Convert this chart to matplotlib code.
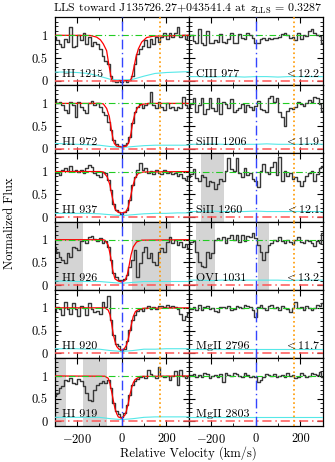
import numpy as np
import matplotlib
matplotlib.use('Agg')
import matplotlib.pyplot as plt
from matplotlib.ticker import MultipleLocator

plt.rcParams['font.family'] = 'serif'
plt.rcParams['font.serif'] = ['cmr10']
plt.rcParams['mathtext.fontset'] = 'cm'
plt.rcParams['axes.formatter.use_mathtext'] = True

##### Data #####
# Spectra are sampled on a 12 km/s grid, errors on a coarser 50 km/s grid
vel = np.arange(-300, 301, 12)
err_vel = np.arange(-300, 301, 50)

left_ions = ['HI 1215', 'HI 972', 'HI 937', 'HI 926', 'HI 920', 'HI 919']
right_ions = ['CIII 977', 'SiIII 1206', 'SiII 1260', 'OVI 1031', 'MgII 2796', 'MgII 2803']
right_limits = ['12.2', '11.9', '12.1', '13.2', '11.7', None]

flux_hi1215 = [0.96, 0.89, 0.81, 0.74, 0.92, 0.85, 1.19, 0.74, 0.77, 1.0, 0.89, 1.04, 0.81,
               0.96, 0.77, 0.85, 0.81, 0.70, 0.55, 0.44, 0.36, 0.10, 0.0, -0.02, 0.02, -0.03,
               0.01, -0.02, 0.02, 0.10, 0.36, 0.59, 0.70, 0.77, 0.89, 0.74, 0.92, 0.81, 0.96,
               0.85, 0.96, 1.04, 0.92, 1.04, 0.96, 1.04, 1.19, 0.96, 1.0, 0.92, 1.0]
flux_hi972 = [1.07, 1.0, 1.04, 0.96, 0.85, 0.78, 1.04, 0.96, 0.71, 1.04, 0.93, 0.85, 0.78,
              1.0, 1.06, 0.96, 1.01, 0.93, 0.82, 0.74, 0.60, 0.41, 0.19, 0.10, 0.06, 0.04,
              0.08, 0.12, 0.26, 0.56, 0.82, 0.93, 0.99, 0.89, 0.96, 1.01, 1.26, 0.96, 0.89,
              1.04, 0.93, 0.85, 1.0, 0.89, 0.91, 0.85, 0.93, 0.89, 1.15, 0.96, 0.89]
flux_hi937 = [0.96, 0.97, 0.92, 1.04, 1.07, 1.01, 1.12, 1.01, 1.04, 0.99, 1.03, 0.96, 1.07,
              1.14, 1.09, 0.97, 0.92, 0.87, 0.99, 0.96, 0.81, 0.59, 0.29, 0.15, 0.10, 0.07,
              0.11, 0.16, 0.37, 0.70, 0.88, 1.03, 1.18, 1.03, 1.07, 0.97, 1.01, 0.94, 1.03,
              0.97, 0.94, 1.03, 0.96, 0.99, 0.94, 0.97, 0.90, 0.94, 0.85, 0.81, 0.90]
flux_hi926 = [0.84, 0.73, 0.62, 0.55, 0.48, 0.70, 0.62, 0.84, 0.81, 0.77, 0.98, 0.99, 0.92,
              1.05, 1.08, 1.01, 0.98, 1.03, 0.92, 0.98, 0.84, 0.55, 0.27, 0.17, 0.12, 0.11,
              0.14, 0.22, 0.40, 0.55, 0.77, 0.18, 0.48, 0.73, 0.83, 0.59, 0.70, 0.51, 0.44,
              0.73, 0.81, 0.73, 0.95, 1.05, 0.92, 0.99, 0.88, 0.95, 0.84, 0.90, 0.81]
flux_hi920 = [0.94, 1.01, 0.98, 0.85, 1.13, 0.98, 0.86, 1.10, 0.98, 0.83, 1.03, 0.99, 0.85,
              1.10, 0.98, 0.91, 0.92, 0.86, 1.13, 1.01, 1.25, 0.74, 0.41, 0.20, 0.15, 0.05,
              0.10, 0.28, 0.52, 0.74, 0.85, 0.92, 0.98, 0.94, 0.99, 1.05, 0.98, 1.01, 0.98,
              1.03, 1.05, 1.01, 1.07, 1.02, 1.05, 1.01, 0.98, 0.86, 0.74, 0.81, 0.88]
flux_hi919 = [0.55, 0.62, 0.73, 0.79, 0.92, 0.89, 0.95, 0.84, 0.82, 0.94, 0.89, 0.77, 0.62,
              0.47, 0.44, 0.70, 0.81, 0.84, 0.88, 0.84, 0.92, 0.73, 0.40, 0.22, 0.16, 0.09,
              0.18, 0.36, 0.59, 0.81, 0.89, 0.94, 0.97, 1.01, 0.95, 1.14, 1.04, 0.99, 0.95,
              1.19, 1.01, 0.97, 1.01, 0.92, 1.01, 1.10, 0.81, 1.14, 0.99, 0.95, 1.01]
flux_ciii977 = [0.99, 1.01, 0.88, 0.82, 1.13, 0.84, 0.79, 1.10, 0.82, 0.84, 0.89, 0.86, 1.02,
                0.86, 0.84, 0.91, 1.04, 0.84, 0.82, 1.02, 0.95, 0.91, 1.04, 1.01, 0.94, 0.84,
                0.82, 0.91, 0.94, 0.89, 0.95, 0.91, 0.94, 0.95, 0.97, 1.02, 1.06, 1.01, 0.94,
                0.97, 0.89, 1.06, 0.91, 1.01, 0.99, 1.10, 1.13, 1.04, 1.01, 0.99, 0.84]
flux_siiii1206 = [0.93, 0.98, 1.13, 0.80, 0.97, 1.13, 0.76, 0.87, 1.13, 0.90, 0.84, 1.13, 0.76,
                  1.04, 0.98, 0.90, 1.09, 0.80, 0.85, 0.90, 0.98, 0.82, 0.97, 0.91, 0.85, 0.95,
                  1.06, 0.87, 0.85, 0.80, 1.13, 1.17, 1.04, 1.12, 0.82, 0.69, 0.51, 0.84, 0.90,
                  0.87, 0.93, 1.04, 0.98, 0.95, 1.02, 1.07, 1.04, 1.15, 1.12, 0.98, 0.84]
flux_siii1260 = [0.87, 0.94, 1.05, 0.85, 0.79, 0.93, 0.87, 0.68, 0.79, 0.76, 0.61, 0.72, 0.83,
                 0.79, 1.02, 1.29, 1.05, 1.02, 1.29, 0.96, 0.87, 1.07, 0.93, 0.96, 0.83, 0.79,
                 0.65, 1.02, 1.16, 1.0, 0.94, 1.10, 1.22, 0.93, 1.31, 0.79, 1.02, 0.91, 0.96,
                 0.83, 0.87, 0.79, 0.68, 0.79, 0.91, 0.96, 1.02, 0.79, 0.94, 1.07, 1.12]
flux_ovi1031 = [0.93, 0.95, 0.98, 0.73, 0.51, 0.42, 0.40, 0.73, 0.59, 0.70, 1.0, 1.03, 0.99,
                1.05, 0.92, 1.03, 1.10, 0.99, 1.10, 0.95, 1.10, 0.98, 1.08, 1.05, 1.14, 1.03,
                0.88, 0.73, 0.55, 0.73, 0.88, 0.93, 1.0, 0.98, 1.06, 0.98, 0.92, 1.0, 0.95,
                0.90, 0.99, 1.06, 0.95, 0.92, 1.0, 0.98, 0.92, 0.87, 0.98, 0.93, 1.14]
flux_mgii2796 = [0.99, 0.97, 1.01, 0.95, 1.06, 0.95, 1.01, 1.04, 0.97, 0.99, 0.94, 0.91, 1.01,
                 1.02, 0.99, 1.04, 0.95, 0.97, 1.04, 1.01, 0.99, 1.06, 1.04, 1.01, 0.95, 0.80,
                 1.01, 1.06, 0.99, 0.95, 1.04, 1.06, 0.99, 1.01, 0.95, 1.04, 0.99, 0.97, 0.91,
                 0.99, 1.13, 0.99, 1.01, 0.95, 1.04, 0.99, 0.95, 0.99, 1.06, 1.04, 1.10]
flux_mgii2803 = [1.0, 1.02, 1.04, 0.98, 1.02, 0.97, 1.06, 1.04, 0.95, 1.0, 1.02, 0.98, 1.04,
                 0.87, 1.07, 1.02, 1.0, 1.06, 1.04, 1.0, 0.98, 1.06, 1.02, 0.98, 1.0, 0.97,
                 0.87, 0.92, 0.98, 1.04, 1.02, 1.0, 1.04, 0.98, 1.0, 1.02, 0.98, 1.06, 1.0,
                 1.02, 0.95, 0.98, 1.07, 1.02, 0.98, 1.0, 1.06, 1.04, 1.02, 1.09, 0.98]

err_hi1215 = [0.19, 0.19, 0.18, 0.16, 0.10, 0.03, 0.01, 0.03, 0.10, 0.16, 0.18, 0.19, 0.20]
err_hi972 = [0.12, 0.11, 0.10, 0.09, 0.08, 0.05, 0.03, 0.05, 0.07, 0.08, 0.08, 0.08, 0.08]
err_hi937 = [0.08, 0.08, 0.08, 0.08, 0.07, 0.05, 0.03, 0.05, 0.07, 0.08, 0.08, 0.09, 0.09]
err_hi926 = [0.09, 0.09, 0.08, 0.08, 0.08, 0.06, 0.04, 0.06, 0.08, 0.08, 0.08, 0.08, 0.08]
err_hi920 = [0.10, 0.10, 0.10, 0.09, 0.09, 0.06, 0.04, 0.06, 0.09, 0.09, 0.10, 0.10, 0.10]
err_hi919 = [0.09, 0.09, 0.09, 0.09, 0.09, 0.06, 0.04, 0.06, 0.09, 0.10, 0.10, 0.10, 0.10]
err_ciii977 = [0.09, 0.09, 0.08, 0.09, 0.09, 0.08, 0.09, 0.09, 0.08, 0.09, 0.09, 0.09, 0.09]
err_siiii1206 = [0.10, 0.10, 0.11, 0.10, 0.10, 0.10, 0.10, 0.11, 0.10, 0.10, 0.10, 0.11, 0.10]
err_siii1260 = [0.12, 0.12, 0.13, 0.12, 0.12, 0.12, 0.13, 0.12, 0.12, 0.12, 0.12, 0.12, 0.12]
err_ovi1031 = [0.11, 0.11, 0.10, 0.11, 0.11, 0.11, 0.11, 0.11, 0.11, 0.10, 0.11, 0.11, 0.11]
err_mgii2796 = [0.10, 0.10, 0.10, 0.10, 0.10, 0.10, 0.10, 0.10, 0.10, 0.10, 0.10, 0.10, 0.10]
err_mgii2803 = [0.10, 0.10, 0.10, 0.10, 0.10, 0.10, 0.10, 0.10, 0.10, 0.10, 0.10, 0.10, 0.10]

# Voigt profile fits to the HI lines (velocity, model flux)
model_v_hi1215 = [-300, -140, -112, -95, -82, -67, -60, -52, -45, -38, 38, 45, 55, 64, 75, 90, 112, 142, 300]
model_f_hi1215 = [1.0, 0.995, 0.96, 0.90, 0.81, 0.66, 0.44, 0.21, 0.02, 0.0, 0.0, 0.06, 0.29, 0.51, 0.70, 0.85, 0.95, 0.98, 1.0]
model_v_hi972 = [-300, -95, -82, -67, -55, -48, -40, -33, -22, 0, 22, 33, 42, 49, 60, 72, 90, 127, 300]
model_f_hi972 = [1.0, 1.0, 0.99, 0.89, 0.71, 0.49, 0.26, 0.12, 0.06, 0.04, 0.06, 0.15, 0.34, 0.56, 0.78, 0.91, 0.98, 1.0, 1.0]
model_v_hi937 = [-300, -95, -82, -64, -52, -45, -37, -30, -18, 0, 19, 30, 40, 49, 60, 75, 97, 300]
model_f_hi937 = [1.0, 1.0, 0.99, 0.88, 0.70, 0.51, 0.33, 0.18, 0.11, 0.09, 0.11, 0.22, 0.44, 0.66, 0.85, 0.96, 0.99, 1.0]
model_v_hi926 = [-300, -85, -75, -60, -49, -40, -30, -15, 0, 15, 25, 34, 42, 52, 67, 90, 300]
model_f_hi926 = [1.0, 1.0, 0.99, 0.88, 0.62, 0.33, 0.14, 0.09, 0.07, 0.10, 0.22, 0.44, 0.66, 0.84, 0.95, 0.99, 1.0]
model_v_hi920 = [-300, -75, -60, -52, -45, -37, -30, -22, -12, 0, 12, 22, 30, 37, 45, 52, 62, 75, 95, 300]
model_f_hi920 = [1.0, 1.0, 0.95, 0.85, 0.66, 0.41, 0.27, 0.15, 0.09, 0.07, 0.10, 0.18, 0.32, 0.48, 0.66, 0.81, 0.92, 0.96, 0.99, 1.0]
model_v_hi919 = [-300, -75, -60, -52, -45, -37, -30, -22, -15, 0, 15, 22, 30, 37, 45, 52, 60, 82, 300]
model_f_hi919 = [1.0, 0.995, 0.95, 0.83, 0.66, 0.46, 0.29, 0.17, 0.10, 0.07, 0.14, 0.24, 0.40, 0.58, 0.74, 0.85, 0.92, 0.99, 1.0]

# Velocity ranges contaminated by other absorbers (grey boxes)
masks_left = [[], [], [], [(-300, -172), (48, 222)], [], [(-300, -247), (-172, -67)]]
masks_right = [[], [], [(-245, -143)], [(-266, -184), (9, 58)], [], []]

v_other = 172  # second component marked by the orange line

left_flux = [flux_hi1215, flux_hi972, flux_hi937, flux_hi926, flux_hi920, flux_hi919]
right_flux = [flux_ciii977, flux_siiii1206, flux_siii1260, flux_ovi1031, flux_mgii2796, flux_mgii2803]
left_err = [err_hi1215, err_hi972, err_hi937, err_hi926, err_hi920, err_hi919]
right_err = [err_ciii977, err_siiii1206, err_siii1260, err_ovi1031, err_mgii2796, err_mgii2803]
left_model = [(model_v_hi1215, model_f_hi1215), (model_v_hi972, model_f_hi972),
              (model_v_hi937, model_f_hi937), (model_v_hi926, model_f_hi926),
              (model_v_hi920, model_f_hi920), (model_v_hi919, model_f_hi919)]


def draw_panel(ax, flux, err, label, masks, model=None, limit=None):
    '''Draw one normalized spectrum with its error, fit and reference lines.
    '''
    for lo, hi in masks:
        ax.axvspan(lo, hi, color='#d4d4d4', lw=0, zorder=0)
    ax.plot(vel, flux, drawstyle='steps-mid', color='0.22', lw=1.0, zorder=2)
    ax.plot(err_vel, err, color='#55e8e8', lw=0.8, zorder=3)
    if model is not None:
        ax.plot(model[0], model[1], color='red', lw=0.9, zorder=4)
    ax.axhline(1, color='#22cc22', lw=0.8, ls=(0, (6, 2.5, 1, 2.5)), zorder=5)
    ax.axhline(0, color='#ff5555', lw=1.1, ls=(0, (6, 2.5, 1, 2.5)), zorder=5)
    ax.axvline(0, color='#3344ff', lw=1.0, ls=(0, (7, 2.5, 1, 2.5)), zorder=6)
    ax.axvline(v_other, color='#ff9900', lw=1.2, ls=':', zorder=6)

    ax.text(-268, 0.09, label, fontsize=8.6, va='baseline', ha='left', zorder=7)
    if limit is not None:
        ax.text(290, 0.09, r'$<$' + limit, fontsize=8.6, va='baseline', ha='right', zorder=7)

    ax.set_xlim(-300, 300)
    ax.set_ylim(-0.1, 1.4)
    ax.xaxis.set_major_locator(MultipleLocator(200))
    ax.xaxis.set_minor_locator(MultipleLocator(100))
    ax.yaxis.set_major_locator(MultipleLocator(0.5))
    ax.yaxis.set_minor_locator(MultipleLocator(0.1))
    ax.tick_params(which='both', direction='in', top=True, right=True, labelsize=9)
    ax.tick_params(which='major', length=4, width=0.8)
    ax.tick_params(which='minor', length=2.5, width=0.6)
    for s in ax.spines.values():
        s.set_linewidth(0.9)


fig, axes = plt.subplots(6, 2, figsize=(3.35, 4.62), dpi=100)
fig.subplots_adjust(left=0.163, right=0.963, bottom=0.078, top=0.963, hspace=0, wspace=0)

for row in range(6):
    ax_l, ax_r = axes[row]
    draw_panel(ax_l, left_flux[row], left_err[row], left_ions[row], masks_left[row],
               model=left_model[row])
    draw_panel(ax_r, right_flux[row], right_err[row], right_ions[row], masks_right[row],
               limit=right_limits[row])

    ax_l.set_yticks([0, 0.5, 1])
    ax_l.set_yticklabels(['0', '0.5', '1'])
    ax_l.tick_params(axis='y', pad=5)
    ax_r.set_yticklabels([])
    if row < 5:
        ax_l.set_xticklabels([])
        ax_r.set_xticklabels([])
    else:
        for ax in (ax_l, ax_r):
            ax.set_xticks([-200, 0, 200])
            ax.set_xticklabels([r'$-200$', '0', '200'])
            ax.tick_params(axis='x', pad=5)

fig.text(0.56, 0.981, r'LLS toward J135726.27+043541.4 at $z_{\rm LLS}$ = 0.3287',
         ha='center', va='center', fontsize=8.6)
fig.text(0.5625, 0.02, 'Relative Velocity (km/s)', ha='center', va='center', fontsize=9)
fig.text(0.03, 0.517, 'Normalized Flux', ha='center', va='center', rotation=90, fontsize=9)

fig.savefig('out.png', dpi=100)
